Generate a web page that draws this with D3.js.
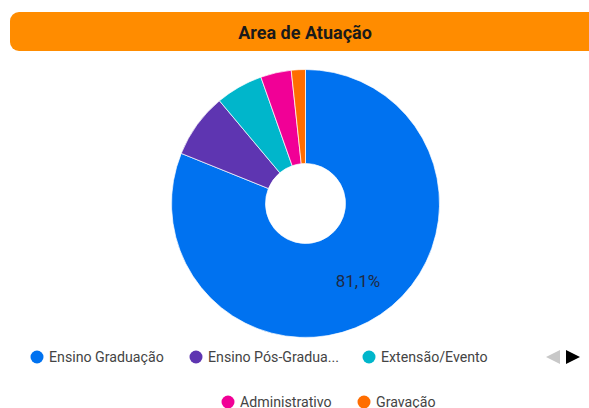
<!DOCTYPE html>
<html>
<head>
<meta charset="utf-8">
<script src="https://cdn.jsdelivr.net/npm/d3@7"></script>
<style>
  body { margin: 0; background: #fff; font-family: Roboto, "Noto Sans", sans-serif; }
</style>
</head>
<body>
<div id="chart"></div>
<script>
const categories = ["Ensino Graduação", "Ensino Pós-Graduação", "Extensão/Evento", "Administrativo", "Gravação"];
const legendLabels = ["Ensino Graduação", "Ensino Pós-Gradua...", "Extensão/Evento", "Administrativo", "Gravação"];
const percentValues = [81.1, 7.8, 5.7, 3.7, 1.7];
const sliceColors = ["#0072f0", "#5e35b1", "#00b6cb", "#f10096", "#ff6d00"];

let width = 589;
let height = 408;

let svg = d3.select("#chart")
    .append("svg")
    .attr("width", width)
    .attr("height", height);

// title bar
svg.append("rect")
    .attr("x", 10)
    .attr("y", 12)
    .attr("width", 600)
    .attr("height", 39)
    .attr("rx", 9)
    .attr("fill", "#ff8c00");

svg.append("text")
    .attr("x", 305)
    .attr("y", 38.5)
    .attr("text-anchor", "middle")
    .attr("font-size", 18)
    .attr("font-weight", "bold")
    .attr("fill", "#1a1a1a")
    .text("Area de Atuação");

// donut
let cx = 305.5, cy = 203.5;
let outerR = 134, innerR = 40;

let pie = d3.pie().sort(null).value((d) => d);
let arc = d3.arc().innerRadius(innerR).outerRadius(outerR);
let labelArc = d3.arc().innerRadius(outerR * 0.7).outerRadius(outerR * 0.7);

let g = svg.append("g").attr("transform", "translate(" + cx + "," + cy + ")");
let arcs = pie(percentValues);

g.selectAll("path")
    .data(arcs)
    .enter()
    .append("path")
    .attr("d", arc)
    .attr("fill", (d, i) => sliceColors[i])
    .attr("stroke", "#fff")
    .attr("stroke-width", 0.7);

// only the big slice is labelled
g.selectAll("text.pct")
    .data(arcs.filter((d) => d.value > 10))
    .enter()
    .append("text")
    .attr("class", "pct")
    .attr("transform", (d) => "translate(" + labelArc.centroid(d) + ")")
    .attr("text-anchor", "middle")
    .attr("dy", "0.35em")
    .attr("font-size", 17)
    .attr("fill", "#1f2a44")
    .text((d) => d3.format(".1f")(d.value).replace(".", ",") + "%");

// legend
let legendPos = [
    { x: 37, y: 357 }, { x: 196, y: 357 }, { x: 369, y: 357 },
    { x: 228, y: 402 }, { x: 364, y: 402 }
];

let legend = svg.selectAll("g.legend")
    .data(legendLabels)
    .enter()
    .append("g")
    .attr("class", "legend")
    .attr("transform", (d, i) => "translate(" + legendPos[i].x + "," + legendPos[i].y + ")");

legend.append("circle")
    .attr("r", 6.5)
    .attr("fill", (d, i) => sliceColors[i]);

legend.append("text")
    .attr("x", 12)
    .attr("dy", "0.35em")
    .attr("font-size", 14.2)
    .attr("fill", "#444")
    .text((d) => d);

// pager arrows
svg.append("path")
    .attr("d", "M560,350 L546,357 L560,364 Z")
    .attr("fill", "#c8c8c8");
svg.append("path")
    .attr("d", "M566,350 L580,357 L566,364 Z")
    .attr("fill", "#000");
</script>
</body>
</html>
